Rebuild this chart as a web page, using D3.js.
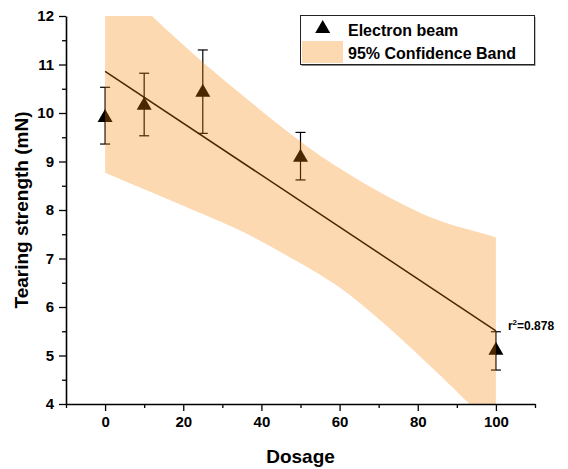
<!DOCTYPE html>
<html>
<head>
<meta charset="utf-8">
<script src="https://d3js.org/d3.v7.min.js"></script>
<style>
  body { margin: 0; background: #fff; }
  svg { display: block; font-family: "Liberation Sans", Arial, sans-serif; font-weight: bold; }
</style>
</head>
<body>
<div id="chart"></div>
<script>
// Data
const dosage = [0, 10, 25, 50, 100];
const strength = [9.95, 10.2, 10.47, 9.13, 5.15];
const errUpper = [10.53, 10.82, 11.30, 9.60, 5.49];
const errLower = [9.36, 9.53, 9.58, 8.62, 4.70];

// linear fit end points
const fitX = [0, 100];
const fitY = [10.86, 5.51];

// 95% confidence band edges
const bandX = [0, 12, 24, 36, 50, 64, 81, 93, 100];
const bandUpper = [12.95, 12.0, 11.12, 10.31, 9.41, 8.66, 7.93, 7.60, 7.44];
const bandLower = [8.77, 8.36, 7.95, 7.52, 6.90, 6.16, 4.95, 4.02, 3.45];

const xTicks = [0, 20, 40, 60, 80, 100];
const yTicks = [4, 5, 6, 7, 8, 9, 10, 11, 12];
const rSquared = '0.878';

const W = 568, H = 469;
const margin = { top: 16, right: 33, bottom: 65, left: 66 };
const width = W - margin.left - margin.right;
const height = H - margin.top - margin.bottom;

const svg = d3.select('#chart').append('svg')
    .attr('width', W)
    .attr('height', H);

const x = d3.scaleLinear().domain([-10, 110]).range([margin.left, margin.left + width]);
const y = d3.scaleLinear().domain([4, 12]).range([margin.top + height, margin.top]);

svg.append('clipPath').attr('id', 'plotClip')
    .append('rect')
    .attr('x', margin.left).attr('y', margin.top)
    .attr('width', width).attr('height', height);

const plot = svg.append('g').attr('clip-path', 'url(#plotClip)');

// fit line
plot.append('line')
    .attr('x1', x(fitX[0])).attr('y1', y(fitY[0]))
    .attr('x2', x(fitX[1])).attr('y2', y(fitY[1]))
    .attr('stroke', '#000')
    .attr('stroke-width', 1.5);

// error bars
const pts = dosage.map((d, i) => ({ x: d, y: strength[i], hi: errUpper[i], lo: errLower[i] }));
const eb = plot.selectAll('.err').data(pts).enter().append('g')
    .attr('stroke', '#000').attr('stroke-width', 1.2);
eb.append('line')
    .attr('x1', d => x(d.x)).attr('x2', d => x(d.x))
    .attr('y1', d => y(d.hi)).attr('y2', d => y(d.lo));
eb.append('line')
    .attr('x1', d => x(d.x) - 5).attr('x2', d => x(d.x) + 5)
    .attr('y1', d => y(d.hi)).attr('y2', d => y(d.hi));
eb.append('line')
    .attr('x1', d => x(d.x) - 5).attr('x2', d => x(d.x) + 5)
    .attr('y1', d => y(d.lo)).attr('y2', d => y(d.lo));

// triangles
const tri = (cx, cy, w, h) => `M${cx},${cy - h / 2}L${cx + w / 2},${cy + h / 2}L${cx - w / 2},${cy + h / 2}Z`;
plot.selectAll('.pt').data(pts).enter().append('path')
    .attr('d', d => tri(x(d.x), y(d.y), 15, 13))
    .attr('fill', '#000');

// confidence band on top, translucent
const bandData = bandX.map((d, i) => ({ x: d, hi: bandUpper[i], lo: bandLower[i] }));
const area = d3.area()
    .x(d => x(d.x))
    .y0(d => y(d.lo))
    .y1(d => y(d.hi))
    .curve(d3.curveNatural);
plot.append('path')
    .datum(bandData)
    .attr('d', area)
    .attr('fill', 'rgb(250,130,0)')
    .attr('fill-opacity', 0.3);

// axes
const minorX = d3.range(-10, 111, 10).filter(v => !xTicks.includes(v));
const minorY = d3.range(4.5, 12, 1);

const xAxis = svg.append('g').attr('transform', `translate(0,${margin.top + height})`);
xAxis.call(d3.axisBottom(x).tickValues(xTicks).tickSize(7).tickPadding(5).tickSizeOuter(0));
xAxis.append('g').call(d3.axisBottom(x).tickValues(minorX).tickSize(4).tickFormat('').tickSizeOuter(0))
    .select('.domain').remove();

const yAxis = svg.append('g').attr('transform', `translate(${margin.left},0)`);
yAxis.call(d3.axisLeft(y).tickValues(yTicks).tickSize(7).tickPadding(5).tickSizeOuter(0));
yAxis.append('g').call(d3.axisLeft(y).tickValues(minorY).tickSize(4).tickFormat('').tickSizeOuter(0))
    .select('.domain').remove();

svg.selectAll('.domain').attr('stroke', '#000').attr('stroke-width', 1.6);
svg.selectAll('.tick line').attr('stroke', '#000').attr('stroke-width', 1.3);
svg.selectAll('.tick text')
    .attr('font-size', 15)
    .attr('font-weight', 'bold')
    .attr('font-family', '"Liberation Sans", Arial, sans-serif')
    .attr('fill', '#000');

// axis titles
svg.append('text')
    .attr('x', margin.left + width / 2)
    .attr('y', 463)
    .attr('text-anchor', 'middle')
    .attr('font-size', 19)
    .text('Dosage');

svg.append('text')
    .attr('transform', `translate(28,${margin.top + height / 2}) rotate(-90)`)
    .attr('text-anchor', 'middle')
    .attr('font-size', 19)
    .text('Tearing strength (mN)');

// r squared label
const rt = svg.append('text')
    .attr('x', x(100) + 12)
    .attr('y', y(fitY[1]) - 1)
    .attr('font-size', 12);
rt.append('tspan').text('r');
rt.append('tspan').attr('font-size', 8).attr('dy', -5).text('2');
rt.append('tspan').attr('dy', 5).text('=' + rSquared);

// legend
const lg = svg.append('g');
lg.append('rect')
    .attr('x', 301.5).attr('y', 17)
    .attr('width', 234).attr('height', 49)
    .attr('fill', '#888');
lg.append('rect')
    .attr('x', 300.5).attr('y', 15.5)
    .attr('width', 234).attr('height', 49)
    .attr('fill', '#fff')
    .attr('stroke', '#222')
    .attr('stroke-width', 1);
lg.append('path')
    .attr('d', tri(322.7, 26.5, 15, 13))
    .attr('fill', '#000');
lg.append('rect')
    .attr('x', 302).attr('y', 41)
    .attr('width', 41).attr('height', 22)
    .attr('fill', 'rgb(250,130,0)')
    .attr('fill-opacity', 0.3);
lg.append('text').attr('x', 348).attr('y', 36).attr('font-size', 16).text('Electron beam');
lg.append('text').attr('x', 348).attr('y', 59).attr('font-size', 16).text('95% Confidence Band');
</script>
</body>
</html>
